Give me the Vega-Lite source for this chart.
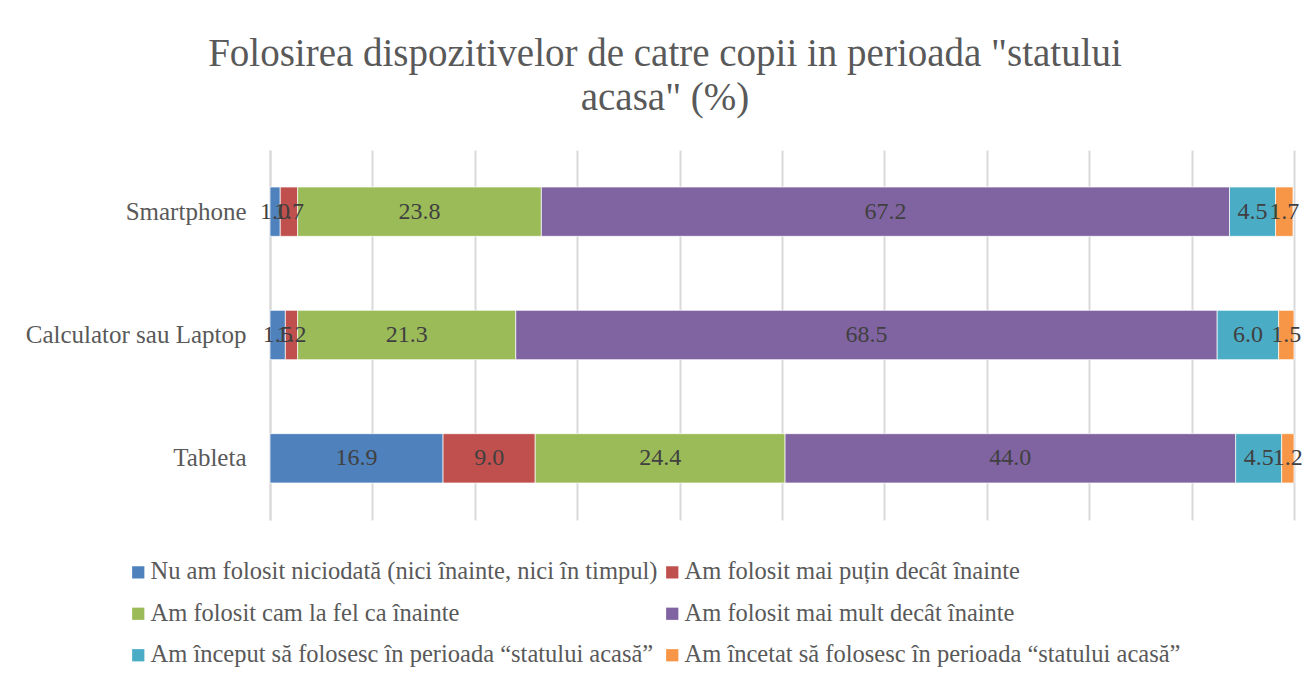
{
  "$schema": "https://vega.github.io/schema/vega-lite/v6.json",
  "width": 1024,
  "height": 370,
  "autosize": {"type": "none"},
  "padding": {"left": 270, "top": 150, "right": 16, "bottom": 167},
  "background": "white",
  "title": {
    "text": ["Folosirea dispozitivelor de catre copii in perioada \"statului", "acasa\" (%)"],
    "anchor": "middle",
    "frame": "group",
    "dx": -117,
    "offset": 32,
    "font": "Liberation Serif",
    "fontSize": 39,
    "fontWeight": "normal",
    "color": "#595959",
    "lineHeight": 44
  },
  "data": {
    "values": [
      {"device": "Smartphone", "cat": "Nu am folosit niciodată (nici înainte, nici în timpul)", "k": 1, "value": 1.0},
      {"device": "Smartphone", "cat": "Am folosit mai puțin decât înainte", "k": 2, "value": 1.7},
      {"device": "Smartphone", "cat": "Am folosit cam la fel ca înainte", "k": 3, "value": 23.8},
      {"device": "Smartphone", "cat": "Am folosit mai mult decât înainte", "k": 4, "value": 67.2},
      {"device": "Smartphone", "cat": "Am început să folosesc în perioada “statului acasă”", "k": 5, "value": 4.5},
      {"device": "Smartphone", "cat": "Am încetat să folosesc în perioada “statului acasă”", "k": 6, "value": 1.7},
      {"device": "Calculator sau Laptop", "cat": "Nu am folosit niciodată (nici înainte, nici în timpul)", "k": 1, "value": 1.5},
      {"device": "Calculator sau Laptop", "cat": "Am folosit mai puțin decât înainte", "k": 2, "value": 1.2},
      {"device": "Calculator sau Laptop", "cat": "Am folosit cam la fel ca înainte", "k": 3, "value": 21.3},
      {"device": "Calculator sau Laptop", "cat": "Am folosit mai mult decât înainte", "k": 4, "value": 68.5},
      {"device": "Calculator sau Laptop", "cat": "Am început să folosesc în perioada “statului acasă”", "k": 5, "value": 6.0},
      {"device": "Calculator sau Laptop", "cat": "Am încetat să folosesc în perioada “statului acasă”", "k": 6, "value": 1.5},
      {"device": "Tableta", "cat": "Nu am folosit niciodată (nici înainte, nici în timpul)", "k": 1, "value": 16.9},
      {"device": "Tableta", "cat": "Am folosit mai puțin decât înainte", "k": 2, "value": 9.0},
      {"device": "Tableta", "cat": "Am folosit cam la fel ca înainte", "k": 3, "value": 24.4},
      {"device": "Tableta", "cat": "Am folosit mai mult decât înainte", "k": 4, "value": 44.0},
      {"device": "Tableta", "cat": "Am început să folosesc în perioada “statului acasă”", "k": 5, "value": 4.5},
      {"device": "Tableta", "cat": "Am încetat să folosesc în perioada “statului acasă”", "k": 6, "value": 1.2}
    ]
  },
  "encoding": {
    "y": {
      "field": "device",
      "type": "nominal",
      "sort": ["Smartphone", "Calculator sau Laptop", "Tableta"],
      "scale": {"paddingInner": 0.6, "paddingOuter": 0.3},
      "axis": {
        "title": null,
        "ticks": false,
        "domain": true,
        "domainColor": "#d9d9d9",
        "domainWidth": 2,
        "labelFont": "Liberation Serif",
        "labelFontSize": 25,
        "labelColor": "#595959",
        "labelPadding": 24,
        "labelLimit": 400
      }
    },
    "order": {"field": "k", "type": "quantitative"}
  },
  "layer": [
    {
      "mark": {"type": "bar", "stroke": "white", "strokeWidth": 0.7},
      "encoding": {
        "x": {
          "field": "value",
          "type": "quantitative",
          "stack": "zero",
          "scale": {"domain": [0, 100], "nice": false},
          "axis": {
            "title": null,
            "labels": false,
            "ticks": false,
            "domain": false,
            "values": [0, 10, 20, 30, 40, 50, 60, 70, 80, 90, 100],
            "grid": true,
            "gridColor": "#d9d9d9",
            "gridWidth": 2
          }
        },
        "color": {
          "field": "cat",
          "type": "nominal",
          "sort": null,
          "scale": {
            "domain": [
              "Nu am folosit niciodată (nici înainte, nici în timpul)",
              "Am folosit mai puțin decât înainte",
              "Am folosit cam la fel ca înainte",
              "Am folosit mai mult decât înainte",
              "Am început să folosesc în perioada “statului acasă”",
              "Am încetat să folosesc în perioada “statului acasă”"
            ],
            "range": ["#4F81BD", "#C0504D", "#9BBB59", "#8064A2", "#4BACC6", "#F79646"]
          },
          "legend": {
            "title": null,
            "orient": "none",
            "legendX": -144,
            "legendY": 410,
            "columns": 2,
            "direction": "horizontal",
            "columnPadding": 2,
            "rowPadding": 16.5,
            "symbolType": "square",
            "symbolSize": 150,
            "symbolStrokeWidth": 0,
            "labelFont": "Liberation Serif",
            "labelFontSize": 24.5,
            "labelColor": "#595959",
            "labelOffset": 0,
            "labelLimit": 1000
          }
        }
      }
    },
    {
      "mark": {"type": "text", "font": "Liberation Serif", "fontSize": 24, "color": "#404040", "baseline": "middle"},
      "encoding": {
        "x": {"field": "value", "type": "quantitative", "stack": "zero", "bandPosition": 0.5},
        "text": {"field": "value", "type": "quantitative", "format": ".1f"}
      }
    }
  ],
  "config": {"view": {"stroke": null}}
}
